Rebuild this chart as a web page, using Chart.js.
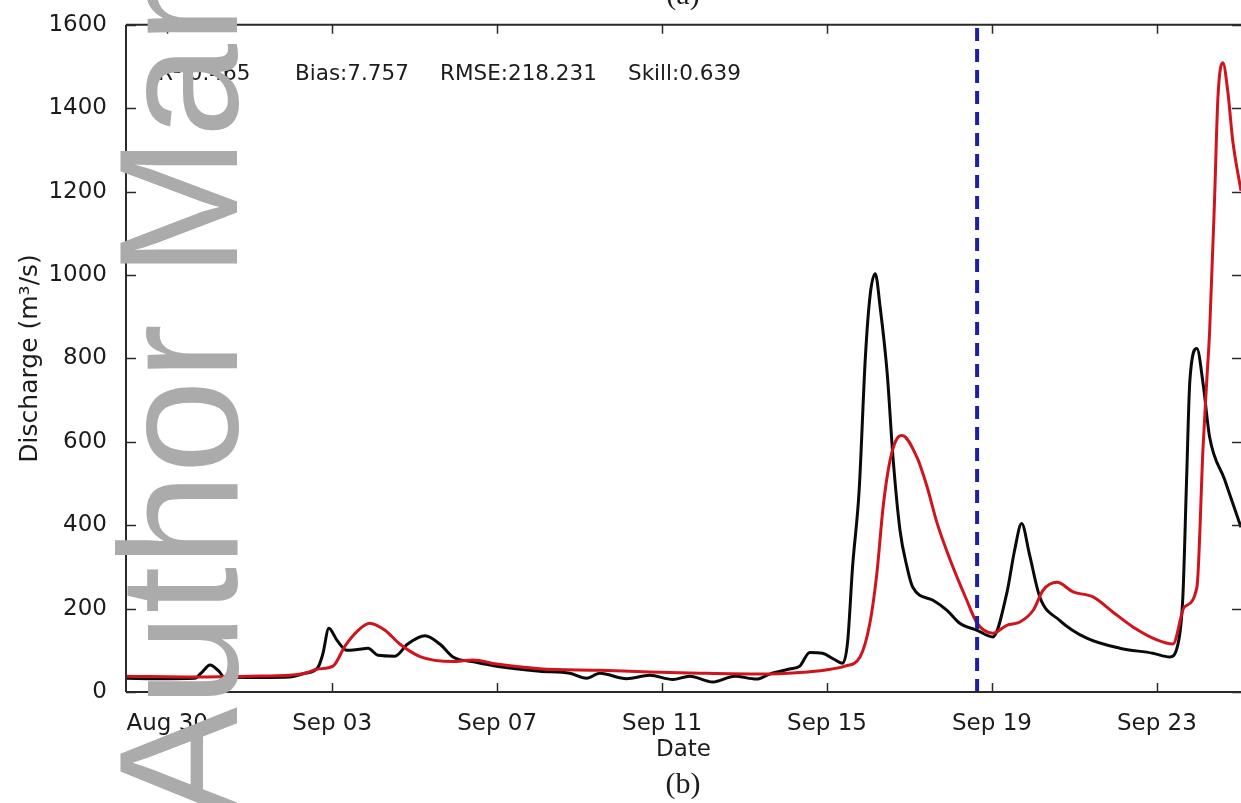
<!DOCTYPE html>
<html>
<head>
<meta charset="utf-8">
<script src="https://cdn.jsdelivr.net/npm/chart.js@4"></script>
<style>
  html, body { margin: 0; padding: 0; background: #fff; }
  #wrap { width: 1241px; height: 803px; }
</style>
</head>
<body>
<div id="wrap"><canvas id="chart" width="1241" height="803"></canvas></div>
<script>
/* =========================
   Data (days since Aug 29, 00:00)
========================= */
const tickDays = [1, 5, 9, 13, 17, 21, 25];
const tickLabels = ["Aug 30", "Sep 03", "Sep 07", "Sep 11", "Sep 15", "Sep 19", "Sep 23"];
const yTicks = [0, 200, 400, 600, 800, 1000, 1200, 1400, 1600];

// observed discharge (black)
const obsDay = [0.00, 0.82, 1.67, 1.82, 2.04, 2.25, 2.38, 3.25, 3.97, 4.34, 4.65, 4.77, 4.92, 5.11, 5.36, 5.62, 5.87, 6.11, 6.52, 6.83,
  7.25, 7.61, 7.93, 8.46, 8.99, 10.03, 10.76, 11.17, 11.49, 12.14, 12.70, 13.26, 13.67, 14.23, 14.76, 15.29, 15.61, 16.09, 16.34, 16.58,
  16.89, 17.18, 17.38, 17.50, 17.62, 17.78, 17.93, 18.05, 18.17, 18.29, 18.46, 18.60, 18.77, 18.94, 19.08, 19.57, 19.91, 20.22, 20.64, 21.02,
  21.36, 21.55, 21.72, 21.91, 22.16, 22.64, 23.30, 24.10, 24.90, 25.31, 25.50, 25.63, 25.72, 25.80, 25.97, 26.12, 26.28, 26.64, 27.04];
const obsVal = [33, 32, 33, 45, 65, 50, 36, 35, 36, 45, 58, 90, 153, 125, 100, 102, 105, 88, 86, 115,
  135, 115, 84, 72, 62, 50, 45, 33, 45, 32, 40, 30, 38, 24, 38, 31, 43, 55, 62, 95,
  93, 78, 69, 120, 300, 484, 802, 955, 1003, 922, 764, 563, 388, 300, 251, 220, 196, 165, 148, 132,
  237, 340, 404, 330, 228, 172, 129, 105, 93, 84, 110, 228, 508, 747, 824, 740, 611, 510, 395];

// simulated discharge (red)
const simDay = [0.00, 1.79, 3.00, 3.97, 4.34, 4.65, 5.02, 5.31, 5.60, 5.91, 6.28, 6.64, 7.13, 7.93, 8.41, 8.99, 10.03, 11.49, 12.70, 13.91,
  15.37, 16.34, 16.97, 17.43, 17.80, 18.04, 18.21, 18.36, 18.53, 18.72, 18.82, 19.18, 19.43, 19.67, 19.99, 20.39, 20.64, 21.02, 21.36, 21.68,
  22.00, 22.24, 22.58, 22.97, 23.45, 23.93, 24.42, 25.00, 25.39, 25.67, 25.97, 26.12, 26.21, 26.28, 26.40, 26.48, 26.60, 26.72, 26.84, 27.04];
const simVal = [38, 36, 38, 40, 45, 55, 62, 110, 145, 165, 148, 115, 85, 73, 77, 67, 56, 52, 48, 45,
  43, 47, 53, 62, 84, 165, 285, 443, 556, 611, 615, 563, 491, 405, 316, 220, 165, 141, 160, 168,
  196, 244, 263, 240, 228, 192, 156, 125, 115, 204, 251, 587, 747, 867, 1185, 1425, 1509, 1440, 1322, 1202];

// forecast start marker (blue dashed)
const cutDay = [20.64, 20.64];
const cutVal = [0, 1600];

const statTexts = ["R²:0.465", "Bias:7.757", "RMSE:218.231", "Skill:0.639"];

/* =========================
   Helpers
========================= */
const toPts = (xs, ys) => xs.map((x, i) => ({ x: x, y: ys[i] }));
const FONT = "'DejaVu Sans', sans-serif";
const INK = "#1c1c1c";

// frame + inward ticks (matlab style), drawn from the chart's scales
const framePlugin = {
  id: "frame",
  afterDatasetsDraw(chart) {
    const { ctx, chartArea: a, scales } = chart;
    const xs = scales.x, ys = scales.y;
    ctx.save();
    ctx.strokeStyle = "#2a2a2a";
    ctx.lineWidth = 2;
    ctx.beginPath();
    ctx.moveTo(a.left, a.top); ctx.lineTo(a.right, a.top);
    ctx.moveTo(a.left, a.bottom); ctx.lineTo(a.right, a.bottom);
    ctx.moveTo(a.left, a.top); ctx.lineTo(a.left, a.bottom);
    ctx.stroke();
    ctx.lineWidth = 1.5;
    ctx.beginPath();
    tickDays.forEach(d => {
      const px = Math.round(xs.getPixelForValue(d)) + 0.5;
      ctx.moveTo(px, a.bottom); ctx.lineTo(px, a.bottom - 9);
      ctx.moveTo(px, a.top); ctx.lineTo(px, a.top + 9);
    });
    yTicks.forEach(v => {
      const py = Math.round(ys.getPixelForValue(v)) + 0.5;
      ctx.moveTo(a.left, py); ctx.lineTo(a.left + 10, py);
      ctx.moveTo(a.right, py); ctx.lineTo(a.right - 9, py);
    });
    ctx.stroke();
    ctx.restore();
  },
  afterDraw(chart) {
    const { ctx } = chart;
    ctx.save();
    // statistics line
    ctx.fillStyle = INK;
    ctx.font = "21.5px " + FONT;
    ctx.textBaseline = "middle";
    ctx.textAlign = "left";
    const sx = [158, 295, 440, 628];
    statTexts.forEach((t, i) => ctx.fillText(t, sx[i], 74));
    // panel letters
    ctx.font = "30px 'Liberation Serif', serif";
    ctx.textAlign = "center";
    ctx.textBaseline = "alphabetic";
    ctx.fillText("(a)", 683, 4);
    ctx.fillText("(b)", 683, 793);
    // watermark
    ctx.fillStyle = "#ababab";
    ctx.font = "168px 'Liberation Sans', Arial, sans-serif";
    ctx.textAlign = "left";
    ctx.translate(237, 819);
    ctx.rotate(-Math.PI / 2);
    ctx.fillText("Author Manuscript", 0, 0);
    ctx.restore();
  }
};

/* =========================
   Chart
========================= */
new Chart(document.getElementById("chart").getContext("2d"), {
  type: "line",
  data: {
    datasets: [
      {
        label: "start",
        data: toPts(cutDay, cutVal),
        borderColor: "#1f1fa6",
        borderWidth: 4,
        borderDash: [13, 8],
        pointRadius: 0
      },
      {
        label: "Simulated",
        data: toPts(simDay, simVal),
        borderColor: "#d0141e",
        borderWidth: 3,
        pointRadius: 0,
        cubicInterpolationMode: "monotone"
      },
      {
        label: "Observed",
        data: toPts(obsDay, obsVal),
        borderColor: "#0a0a0a",
        borderWidth: 3,
        pointRadius: 0,
        cubicInterpolationMode: "monotone"
      }
    ]
  },
  options: {
    responsive: false,
    animation: false,
    layout: { padding: { top: 24, right: 0, left: 0, bottom: 0 } },
    plugins: { legend: { display: false }, tooltip: { enabled: false } },
    scales: {
      x: {
        type: "linear",
        min: 0,
        max: 27.04,
        afterBuildTicks: (s) => { s.ticks = tickDays.map(v => ({ value: v })); },
        afterFit: (s) => { s.height = 111; },
        grid: { display: false },
        border: { display: false },
        ticks: {
          autoSkip: false,
          maxRotation: 0,
          padding: 10,
          color: INK,
          font: { family: FONT, size: 23 },
          callback: (v) => tickLabels[tickDays.indexOf(v)]
        },
        title: {
          display: true,
          text: "Date",
          color: INK,
          font: { family: FONT, size: 23 },
          padding: { top: 0, bottom: 39 }
        }
      },
      y: {
        min: 0,
        max: 1600,
        afterBuildTicks: (s) => { s.ticks = yTicks.map(v => ({ value: v })); },
        afterFit: (s) => { s.width = 126; },
        grid: { display: false },
        border: { display: false },
        ticks: {
          padding: 11,
          color: INK,
          font: { family: FONT, size: 23 },
          callback: (v) => String(v)
        },
        title: {
          display: true,
          text: "Discharge (m³/s)",
          color: INK,
          font: { family: FONT, size: 25 },
          padding: { top: 15, bottom: 0 }
        }
      }
    }
  },
  plugins: [framePlugin]
});
</script>
</body>
</html>
